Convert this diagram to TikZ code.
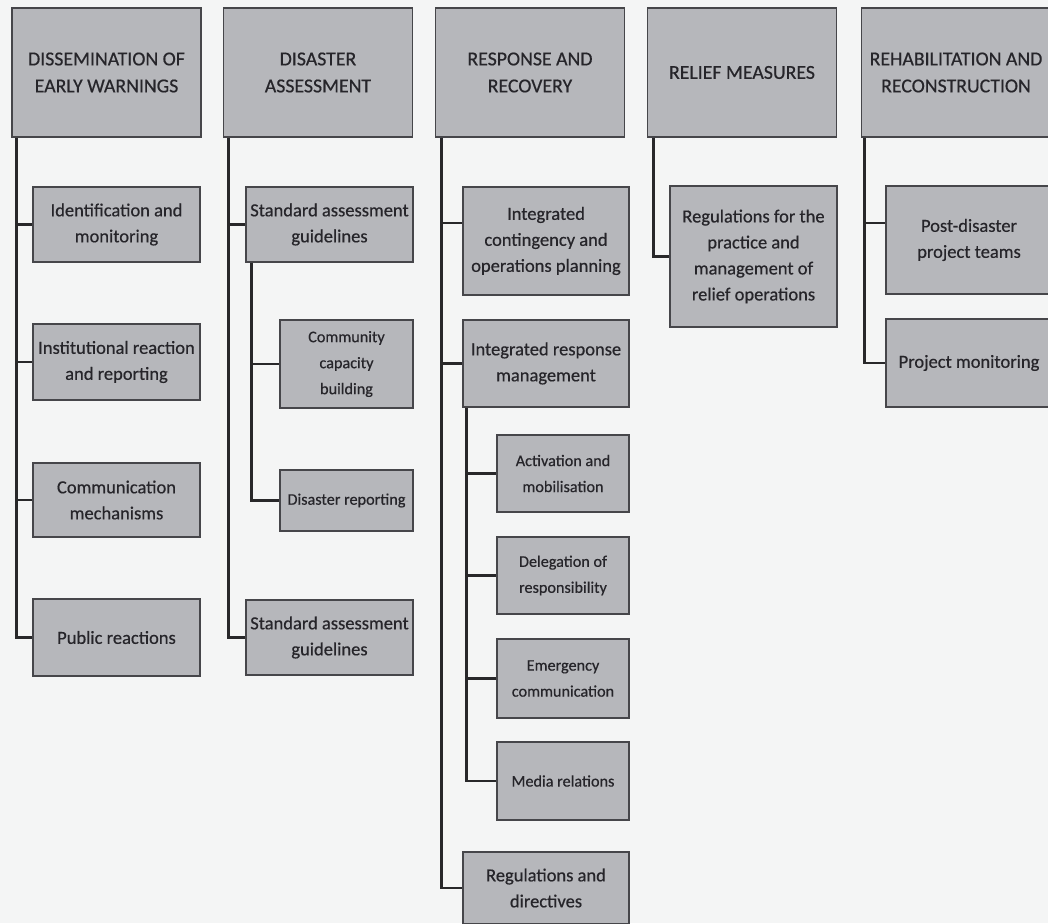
\documentclass[tikz,border=0pt]{standalone}
\usepackage{fontspec}
\setmainfont{Carlito}[BoldFont={Carlito},BoldFeatures={FakeBold=0.5}]
\definecolor{bg}{HTML}{F4F5F5}
\definecolor{boxfill}{HTML}{B6B7BB}
\definecolor{boxline}{HTML}{46464A}
\definecolor{txt}{HTML}{26252A}
\definecolor{spinecol}{HTML}{28282A}
\begin{document}
\begin{tikzpicture}[x=1pt,y=-1pt,
 box/.style={draw=boxline, line width=1.3pt, fill=boxfill, text=txt, align=center, inner sep=2pt},
 title/.style={box, font=\fontsize{19.8}{27}\selectfont\bfseries, minimum width=189pt, minimum height=129pt},
 item/.style={box, font=\fontsize{18.5}{26}\selectfont\bfseries},
 small/.style={box, font=\fontsize{16.2}{26}\selectfont\bfseries},
 spine/.style={draw=spinecol, line width=2.8pt}]
\fill[bg] (0,0) rectangle (1048,923);
\clip (0,0) rectangle (1048,923);
% titles
\node[title] (t1) at (106.5,72.5) {DISSEMINATION OF\\EARLY WARNINGS};
\node[title] (t2) at (318,72.5) {DISASTER\\ASSESSMENT};
\node[title] (t3) at (530,72.5) {RESPONSE AND\\RECOVERY};
\node[title] (t4) at (742,72.5) {RELIEF MEASURES};
\node[title] (t5) at (956,72.5) {REHABILITATION AND\\RECONSTRUCTION};
% column 1
\node[item, minimum width=167pt, minimum height=75pt] (c1a) at (116.5,224.5) {Identification and\\monitoring};
\node[item, minimum width=167pt, minimum height=76pt] (c1b) at (116.5,362) {Institutional reaction\\and reporting};
\node[item, minimum width=167pt, minimum height=74pt] (c1c) at (116.5,500) {Communication\\mechanisms};
\node[item, minimum width=167pt, minimum height=77pt] (c1d) at (116.5,637.5) {Public reactions};
% column 2
\node[item, minimum width=167pt, minimum height=75pt] (c2a) at (329.5,224.5) {Standard assessment\\guidelines};
\node[small, minimum width=133pt, minimum height=88pt] (c2b) at (346.5,364) {Community\\capacity\\building};
\node[small, minimum width=133pt, minimum height=61pt] (c2c) at (346.5,500.5) {Disaster reporting};
\node[item, minimum width=167pt, minimum height=75pt] (c2d) at (329.5,637.5) {Standard assessment\\guidelines};
% column 3
\node[item, minimum width=166pt, minimum height=108pt] (c3a) at (546,241) {Integrated\\contingency and\\operations planning};
\node[item, minimum width=166pt, minimum height=87pt] (c3b) at (546,363.5) {Integrated response\\management};
\node[small, minimum width=132pt, minimum height=77pt] (c3c) at (563,473.5) {Activation and\\mobilisation};
\node[small, minimum width=132pt, minimum height=77pt] (c3d) at (563,575.5) {Delegation of\\responsibility};
\node[small, minimum width=132pt, minimum height=79pt] (c3e) at (563,678.5) {Emergency\\communication};
\node[small, minimum width=132pt, minimum height=78pt] (c3f) at (563,781) {Media relations};
\node[item, minimum width=166pt, minimum height=72pt] (c3g) at (546,888) {Regulations and\\directives};
% column 4
\node[item, minimum width=167pt, minimum height=141pt] (c4a) at (753.5,256.5) {Regulations for the\\practice and\\management of\\relief operations};
% column 5
\node[item, minimum width=166pt, minimum height=108pt] (c5a) at (969,240) {Post-disaster\\project teams};
\node[item, minimum width=166pt, minimum height=88pt] (c5b) at (969,363) {Project monitoring};
% spines
\coordinate (s1) at ([xshift=5pt]t1.south west);
\coordinate (s2) at ([xshift=6pt]t2.south west);
\coordinate (s3) at ([xshift=7pt]t3.south west);
\coordinate (s4) at ([xshift=7pt]t4.south west);
\coordinate (s5) at ([xshift=4pt]t5.south west);
\coordinate (u2) at ([xshift=6pt]c2a.south west);
\coordinate (u3) at ([xshift=4pt]c3b.south west);
\draw[spine] (s1) |- (c1d.west);
\draw[spine] (c1a.west -| s1) -- (c1a.west);
\draw[spine] (c1b.west -| s1) -- (c1b.west);
\draw[spine] (c1c.west -| s1) -- (c1c.west);
\draw[spine] (s2) |- (c2d.west);
\draw[spine] (c2a.west -| s2) -- (c2a.west);
\draw[spine] (u2) |- (c2c.west);
\draw[spine] (c2b.west -| u2) -- (c2b.west);
\draw[spine] (s3) |- (c3g.west);
\draw[spine] ([yshift=18pt]c3a.west -| s3) -- ([yshift=18pt]c3a.west);
\draw[spine] (c3b.west -| s3) -- (c3b.west);
\draw[spine] (u3) |- (c3f.west);
\draw[spine] (c3c.west -| u3) -- (c3c.west);
\draw[spine] (c3d.west -| u3) -- (c3d.west);
\draw[spine] (c3e.west -| u3) -- (c3e.west);
\draw[spine] (s4) |- (c4a.west);
\draw[spine] (s5) |- (c5b.west);
\draw[spine] ([yshift=17pt]c5a.west -| s5) -- ([yshift=17pt]c5a.west);
\end{tikzpicture}
\end{document}
